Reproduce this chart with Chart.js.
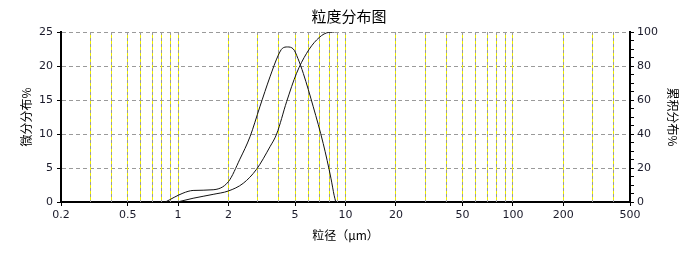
<!DOCTYPE html>
<html>
<head>
<meta charset="utf-8">
<script src="https://cdn.jsdelivr.net/npm/chart.js@4.4.1/dist/chart.umd.min.js"></script>
<style>
  html, body { margin: 0; padding: 0; background: #fff; }
</style>
</head>
<body>
<canvas id="myChart" width="698" height="253"></canvas>
<script>
// Differential distribution (left axis, %)
var diffSizes = [0.84, 1.07, 1.23, 1.62, 2.0, 2.34, 2.69, 3.08, 3.54, 3.97, 4.2, 4.5, 4.88, 5.2, 5.6, 6.42, 7.36, 8.2, 8.55, 8.75];
var diffValues = [0, 1.3, 1.7, 1.8, 3.0, 6.3, 9.6, 14.0, 18.4, 21.6, 22.6, 22.8, 22.5, 21.1, 18.9, 14.0, 8.6, 3.4, 1.0, 0];

// Cumulative distribution (right axis, %)
var cumSizes = [0.99, 1.23, 1.62, 2.0, 2.45, 2.94, 3.54, 3.88, 4.45, 5.1, 5.86, 6.72, 7.72, 8.6];
var cumValues = [0, 2.2, 4.5, 6.5, 11, 19.2, 32.5, 40, 59, 75.7, 87.5, 95.3, 99.5, 100];

// x axis ticks
var labelSizes = [0.2, 0.5, 1, 2, 5, 10, 20, 50, 100, 200, 500];
var gridSizes = [0.3, 0.4, 0.5, 0.6, 0.7, 0.8, 0.9, 1, 2, 3, 4, 5, 6, 7, 8, 9, 10, 20, 30, 40, 50, 60, 70, 80, 90, 100, 200, 300, 400];

function toPoints(xs, ys) {
  return xs.map(function (x, i) { return { x: x, y: ys[i] }; });
}

// vertical grid lines: gray and yellow dashes alternating
var logGrid = {
  id: 'logGrid',
  beforeDatasetsDraw: function (chart) {
    var ctx = chart.ctx, xs = chart.scales.x, area = chart.chartArea;
    ctx.save();
    ctx.lineWidth = 1;
    ctx.setLineDash([3, 3]);
    gridSizes.forEach(function (v) {
      var px = Math.round(xs.getPixelForValue(v) - 0.5) + 0.5;
      [['#9a9a9a', 0], ['#eeee00', 3]].forEach(function (s) {
        ctx.strokeStyle = s[0];
        ctx.lineDashOffset = s[1];
        ctx.beginPath();
        ctx.moveTo(px, area.top);
        ctx.lineTo(px, area.bottom);
        ctx.stroke();
      });
    });
    ctx.restore();
  }
};

var tickFont = { family: 'DejaVu Sans', size: 11 };
var cjkFont = { family: 'Noto Sans CJK SC', size: 12, lineHeight: 1.2 };

var ctx = document.getElementById('myChart').getContext('2d');
var myChart = new Chart(ctx, {
  type: 'line',
  data: {
    datasets: [{
      label: '微分分布%',
      data: toPoints(diffSizes, diffValues),
      yAxisID: 'y',
      borderColor: '#111',
      borderWidth: 1,
      pointRadius: 0,
      cubicInterpolationMode: 'monotone'
    }, {
      label: '累积分布%',
      data: toPoints(cumSizes, cumValues),
      yAxisID: 'y2',
      borderColor: '#111',
      borderWidth: 1,
      pointRadius: 0,
      cubicInterpolationMode: 'monotone'
    }]
  },
  options: {
    responsive: false,
    animation: false,
    layout: { padding: 0 },
    plugins: {
      legend: { display: false },
      tooltip: { enabled: false },
      title: {
        display: true,
        text: '粒度分布图',
        color: '#000',
        font: { family: 'Noto Sans CJK SC', size: 15, weight: 'normal', lineHeight: 1.2 },
        padding: { top: 7, bottom: 7 }
      }
    },
    scales: {
      x: {
        type: 'logarithmic',
        position: 'bottom',
        min: 0.2,
        max: 500,
        afterBuildTicks: function (scale) {
          var vals = labelSizes.concat(gridSizes).filter(function (v, i, a) { return a.indexOf(v) === i; });
          vals.sort(function (a, b) { return a - b; });
          scale.ticks = vals.map(function (v) { return { value: v }; });
        },
        afterFit: function (scale) { scale.height = 51; },
        ticks: {
          autoSkip: false,
          maxRotation: 0,
          color: '#1a1a2a',
          font: tickFont,
          padding: 3,
          callback: function (v) { return labelSizes.indexOf(v) >= 0 ? String(v) : ''; }
        },
        grid: {
          drawOnChartArea: false,
          lineWidth: 1,
          tickLength: 4,
          tickColor: function (c) {
            var v = c.tick ? c.tick.value : null;
            return labelSizes.indexOf(v) >= 0 ? '#000' : 'rgba(0,0,0,0)';
          }
        },
        border: { color: '#000', width: 2 },
        title: {
          display: true,
          text: '粒径（μm）',
          color: '#000',
          font: cjkFont,
          padding: { top: 0, bottom: 10 }
        }
      },
      y: {
        position: 'left',
        min: 0,
        max: 25,
        afterFit: function (scale) { scale.width = 61; },
        ticks: { stepSize: 5, color: '#1a1a2a', font: tickFont, padding: 4 },
        grid: { color: '#9a9a9a', lineWidth: 1, tickLength: 4, tickColor: '#000' },
        border: { color: '#000', width: 2, dash: [4, 3] },
        title: {
          display: true,
          text: '微分分布%',
          color: '#000',
          font: cjkFont,
          padding: { top: 19, bottom: 0 }
        }
      },
      y2: {
        position: 'right',
        min: 0,
        max: 100,
        afterFit: function (scale) { scale.width = 68; },
        ticks: {
          stepSize: 5,
          autoSkip: false,
          color: '#1a1a2a',
          font: tickFont,
          padding: 3,
          callback: function (v) { return v % 20 === 0 ? String(v) : ''; }
        },
        grid: { drawOnChartArea: false, tickLength: 4, tickColor: '#000' },
        border: { color: '#000', width: 2 },
        title: {
          display: true,
          text: '累积分布%',
          color: '#000',
          font: cjkFont,
          padding: { top: 18, bottom: 0 }
        }
      }
    }
  },
  plugins: [logGrid]
});
</script>
</body>
</html>
